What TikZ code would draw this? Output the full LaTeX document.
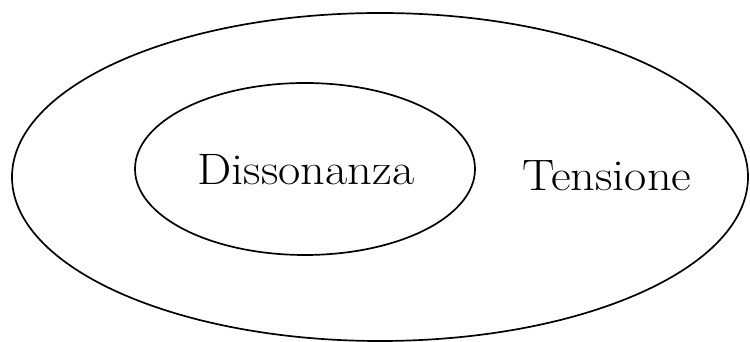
\documentclass[tikz,border=0pt]{standalone}
\begin{document}
\begin{tikzpicture}[x=1pt,y=1pt,
  ring/.style={line width=1.7pt},
  lbl/.style={font=\fontsize{44}{48}\selectfont, inner sep=0pt, anchor=base}]
\useasboundingbox (0,0) rectangle (750,342);
\draw[ring] (380,165) ellipse [x radius=368, y radius=164];
\draw[ring] (305,173) ellipse [x radius=170, y radius=86];
\node[lbl] (diss) at (306,157) {\scalebox{1.1}[1]{Dissonanza}};
\node[lbl] (tens) at (607,151) {\scalebox{1.1}[1]{Tensione}};
\end{tikzpicture}
\end{document}
